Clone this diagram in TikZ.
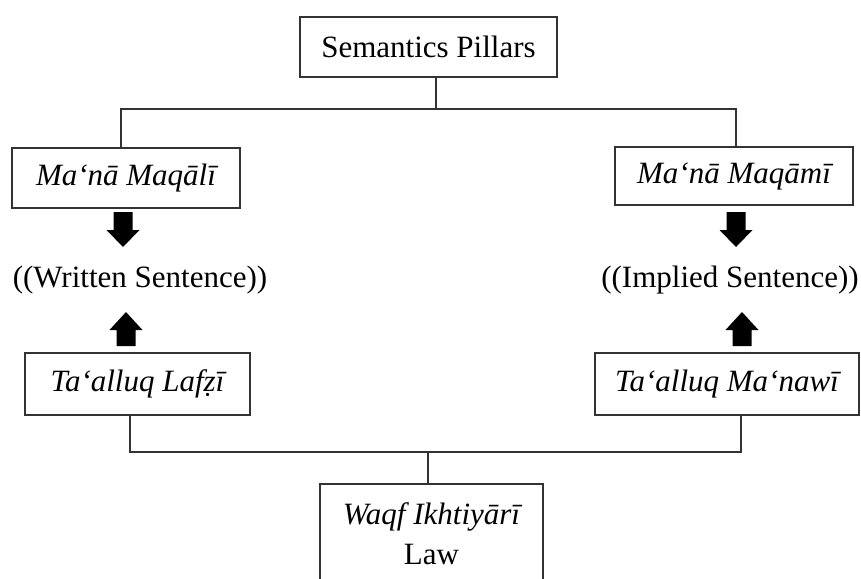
\documentclass[tikz,border=0pt]{standalone}
\usepackage{fontspec}
\setmainfont{Liberation Serif}
\definecolor{linec}{HTML}{333333}
\tikzset{
  box/.style={draw=linec, line width=2pt, inner sep=0pt, font=\fontsize{31}{40}\selectfont, align=center},
  conn/.style={draw=linec, line width=2pt},
  plain/.style={inner sep=0pt, font=\fontsize{31}{40}\selectfont},
  dnarrow/.pic={\fill (-9.5,0) -- (9.5,0) -- (9.5,18) -- (16.5,18) -- (0,35) -- (-16.5,18) -- (-9.5,18) -- cycle;},
  uparrow/.pic={\fill (-9.5,0) -- (9.5,0) -- (9.5,-16) -- (16.5,-16) -- (0,-34) -- (-16.5,-16) -- (-9.5,-16) -- cycle;}
}
\begin{document}
\begin{tikzpicture}[x=1pt,y=-1pt]
\useasboundingbox (0,0) rectangle (861,578);
\fill[white] (0,0) rectangle (861,578);
\node[box, minimum width=257pt, minimum height=60pt] (sp) at (428.5,47) {Semantics Pillars};
\node[box, minimum width=228pt, minimum height=60pt] (mml) at (126,178) {\itshape Ma‘nā Maqālī};
\node[box, minimum width=238pt, minimum height=58pt] (mmm) at (734,176) {\itshape Ma‘nā Maqāmī};
\node[plain] (ws) at (140,280) {((Written Sentence))};
\node[plain] (is) at (730,280) {((Implied Sentence))};
\node[box, minimum width=225pt, minimum height=62pt] (tl) at (137.5,384) {\itshape Ta‘alluq Lafẓī};
\node[box, minimum width=264pt, minimum height=62pt] (tm) at (727,384) {\itshape Ta‘alluq Ma‘nawī};
\node[box, minimum width=223pt, minimum height=100pt, anchor=north] (wq) at (431.5,483) {\itshape Waqf Ikhtiyārī\\Law};
\coordinate (j1) at (436,109);
\coordinate (l1) at (121,109);
\coordinate (r1) at (736,109);
\coordinate (j2) at (428,452);
\coordinate (l2) at (130,452);
\coordinate (r2) at (741,452);
\draw[conn] (sp.south -| j1) -- (j1);
\draw[conn] (mml.north -| l1) -- (l1) -- (r1) -- (mmm.north -| r1);
\draw[conn] (tl.south -| l2) -- (l2) -- (r2) -- (tm.south -| r2);
\draw[conn] (j2) -- (wq.north -| j2);
\pic at (123,212) {dnarrow};
\pic at (736,212) {dnarrow};
\pic at (126,346) {uparrow};
\pic at (742,346) {uparrow};
\end{tikzpicture}
\end{document}
